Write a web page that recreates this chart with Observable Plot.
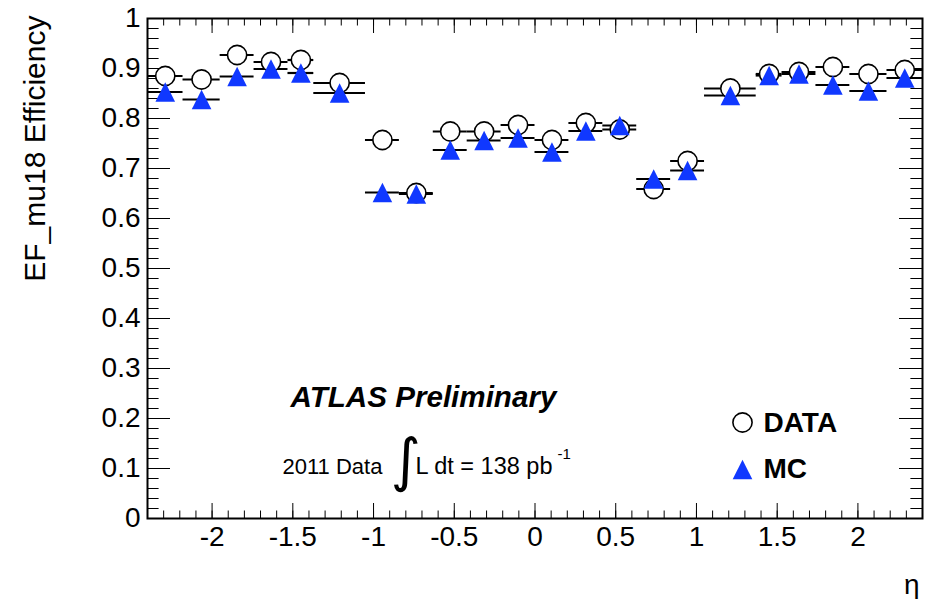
<!DOCTYPE html>
<html>
<head>
<meta charset="utf-8">
<script src="https://cdn.jsdelivr.net/npm/d3@7"></script>
<script src="https://cdn.jsdelivr.net/npm/@observablehq/plot@0.6"></script>
<style>
  html, body { margin: 0; padding: 0; background: #fff; }
  #chart svg { display: block; }
</style>
</head>
<body>
<div id="chart"></div>
<script>
// eta bin edges (22 bins)
const binEdges = [-2.4, -2.18, -1.95, -1.74, -1.53, -1.37, -1.05, -0.84, -0.63, -0.42, -0.21, 0,
                  0.21, 0.42, 0.63, 0.84, 1.05, 1.37, 1.53, 1.74, 1.95, 2.18, 2.4];
// Efficiency values per bin
const dataEff = [0.885, 0.878, 0.927, 0.913, 0.917, 0.871, 0.757, 0.651, 0.774, 0.774, 0.787, 0.757,
                 0.791, 0.778, 0.659, 0.715, 0.860, 0.889, 0.893, 0.903, 0.889, 0.897];
const mcEff   = [0.853, 0.838, 0.884, 0.899, 0.891, 0.851, 0.652, 0.649, 0.737, 0.756, 0.761, 0.733,
                 0.775, 0.786, 0.679, 0.696, 0.846, 0.886, 0.889, 0.867, 0.855, 0.881];
// Axis ticks
const xTickLabels = [-2, -1.5, -1, -0.5, 0, 0.5, 1, 1.5, 2];
const yTickLabels = [0, 0.1, 0.2, 0.3, 0.4, 0.5, 0.6, 0.7, 0.8, 0.9, 1];
const xMinorTicks = d3.range(-24, 25).map(i => i / 10);
const yMinorTicks = d3.range(0, 51).map(i => i / 50);

const rows = (vals, series) => vals.map((v, i) => ({
  lo: binEdges[i], hi: binEdges[i + 1], x: (binEdges[i] + binEdges[i + 1]) / 2, y: v, series
}));
const dataRows = rows(dataEff, "DATA");
const mcRows = rows(mcEff, "MC");

const blue = "#1038ff";
const font = "'Liberation Sans', Arial, Helvetica, sans-serif";
const W = 925, H = 599, mL = 147, mR = 3, mT = 18, mB = 81;
const fw = W - mL - mR, fh = H - mT - mB;

// ROOT-style triangle (width == height), centered on its box
const rootTriangle = {
  draw(context, size) {
    const r = Math.sqrt(size / Math.PI);
    context.moveTo(0, -r);
    context.lineTo(r, r);
    context.lineTo(-r, r);
    context.closePath();
  }
};
const fmt = d => String(+d.toFixed(2)).replace("\u2212", "-");
const label = (txt, o) => Plot.text([txt], { text: d => d, frameAnchor: "top-left", textAnchor: "start",
  lineAnchor: "middle", ...o });

const chart = Plot.plot({
  width: W, height: H,
  marginLeft: mL, marginRight: mR, marginTop: mT, marginBottom: mB,
  style: { fontFamily: font, background: "#fff", color: "#000" },
  x: { domain: [-2.4, 2.4], axis: null },
  y: { domain: [0, 1], axis: null },
  marks: [
    // minor ticks (inward, all four sides)
    Plot.tickX(xMinorTicks, { x: d => d, stroke: "#000", strokeWidth: 1, insetTop: fh - 7.5 }),
    Plot.tickX(xMinorTicks, { x: d => d, stroke: "#000", strokeWidth: 1, insetBottom: fh - 7.5 }),
    Plot.tickY(yMinorTicks, { y: d => d, stroke: "#000", strokeWidth: 1, insetRight: fw - 11.6 }),
    Plot.tickY(yMinorTicks, { y: d => d, stroke: "#000", strokeWidth: 1, insetLeft: fw - 11.6 }),
    // major ticks
    Plot.tickX(xTickLabels, { x: d => d, stroke: "#000", strokeWidth: 1, insetTop: fh - 15 }),
    Plot.tickX(xTickLabels, { x: d => d, stroke: "#000", strokeWidth: 1, insetBottom: fh - 15 }),
    Plot.tickY(yTickLabels, { y: d => d, stroke: "#000", strokeWidth: 1, insetRight: fw - 23 }),
    Plot.tickY(yTickLabels, { y: d => d, stroke: "#000", strokeWidth: 1, insetLeft: fw - 23 }),
    Plot.frame({ stroke: "#000", strokeWidth: 2 }),
    // axes labels
    Plot.axisX({ ticks: xTickLabels, tickSize: 0, tickPadding: 8, fontSize: 28, tickFormat: fmt, label: null }),
    Plot.axisY({ ticks: yTickLabels, tickSize: 0, tickPadding: 7, fontSize: 28, tickFormat: fmt, label: null }),
    Plot.text(["EF_mu18 Efficiency"], { text: d => d, frameAnchor: "top-left", rotate: -90,
      textAnchor: "end", lineAnchor: "middle", dx: -112, dy: -3, fontSize: 30 }),
    Plot.text(["\u03b7"], { text: d => d, frameAnchor: "bottom-right", textAnchor: "end",
      lineAnchor: "middle", dx: -3, dy: 67, fontSize: 28 }),
    // horizontal error bars (bin widths)
    Plot.ruleY(dataRows, { x1: "lo", x2: "hi", y: "y", stroke: "#000", strokeWidth: 2.2 }),
    Plot.ruleY(mcRows, { x1: "lo", x2: "hi", y: "y", stroke: "#000", strokeWidth: 2.2 }),
    // markers
    Plot.dot(dataRows, { x: "x", y: "y", r: 9.6, symbol: "circle", fill: "#fff", stroke: "#000", strokeWidth: 1.6 }),
    Plot.dot(mcRows, { x: "x", y: "y", r: 9.8, symbol: rootTriangle, fill: blue, stroke: "none" }),
    // annotations
    label("ATLAS Preliminary", { dx: 143, dy: 379, fontSize: 29.6, fontWeight: "bold", fontStyle: "italic" }),
    label("2011 Data", { dx: 135, dy: 448, fontSize: 22 }),
    label("\u222b", { textAnchor: "middle", dx: 258, dy: 443, fontSize: 58, fontFamily: "'DejaVu Sans'" }),
    label("L dt = 138 pb", { dx: 268, dy: 448, fontSize: 23.5 }),
    label("-1", { dx: 410, dy: 436, fontSize: 15 }),
    // legend
    Plot.dot(["DATA"], { frameAnchor: "top-left", dx: 595, dy: 404, r: 9.6, symbol: "circle",
      fill: "#fff", stroke: "#000", strokeWidth: 1.6 }),
    label("DATA", { dx: 616, dy: 405, fontSize: 28, fontWeight: "bold" }),
    Plot.dot(["MC"], { frameAnchor: "top-left", dx: 595, dy: 451, r: 9.8, symbol: rootTriangle,
      fill: blue, stroke: "none" }),
    label("MC", { dx: 616, dy: 451, fontSize: 28, fontWeight: "bold" })
  ]
});
document.getElementById("chart").appendChild(chart);
</script>
</body>
</html>
